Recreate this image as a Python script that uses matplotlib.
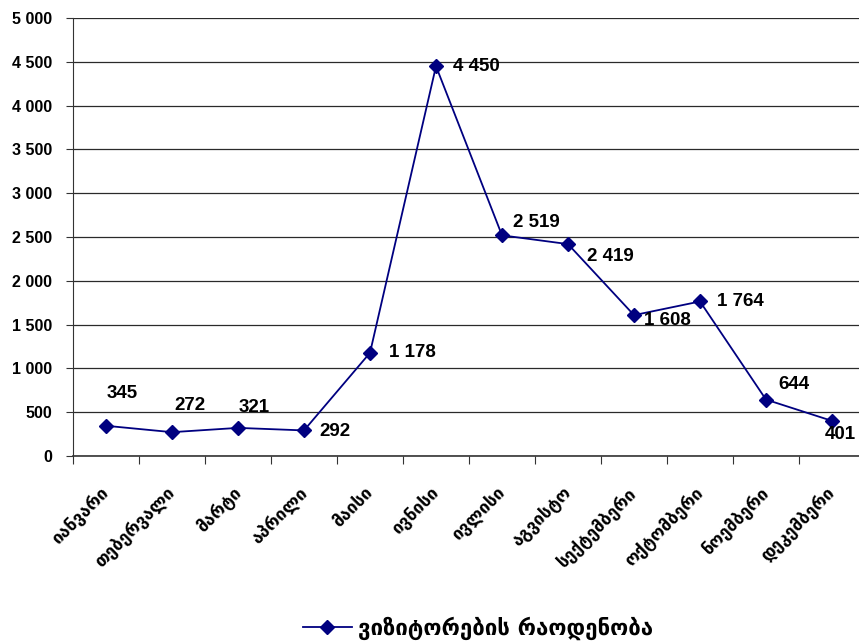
import matplotlib
matplotlib.use("Agg")
import matplotlib.pyplot as plt
import matplotlib.transforms as mtransforms
from matplotlib.ticker import FuncFormatter, MultipleLocator, FixedLocator

months = ["იანვარი", "თებერვალი", "მარტი", "აპრილი", "მაისი", "ივნისი",
          "ივლისი", "აგვისტო", "სექტემბერი", "ოქტომბერი", "ნოემბერი", "დეკემბერი"]
visitors = [345, 272, 321, 292, 1178, 4450, 2519, 2419, 1608, 1764, 644, 401]
series_name = "ვიზიტორების რაოდენობა"

# label offsets in points (dx, dy, ha, va) - style only
offsets = [(12, 23, "center", "center"), (13, 19, "center", "center"),
           (12, 15, "center", "center"), (11, -1, "left", "center"),
           (14, 0, "left", "center"), (12, 0, "left", "center"),
           (8, 9, "left", "center"), (14, -9, "left", "center"),
           (7, -4, "left", "center"), (12, 0, "left", "center"),
           (9, 11, "left", "center"), (-5, -10, "left", "center")]

def fmt(v, pos=None):
    return f"{int(v):,}".replace(",", " ")

fig = plt.figure(figsize=(8.59, 6.41), dpi=100)
ax = fig.add_axes([73/859, 1-456/641, 792/859, 438/641])

x = list(range(len(visitors)))
ax.plot(x, visitors, color="#000080", lw=1.3, marker="D", ms=7,
        mfc="#000080", mec="#000080", label=series_name, clip_on=False, zorder=3)

for i, v in enumerate(visitors):
    dx, dy, ha, va = offsets[i]
    ax.annotate(fmt(v), (i, v), xytext=(dx, dy), textcoords="offset points",
                ha=ha, va=va, fontsize=13.5, fontweight="bold",
                family="Liberation Sans", color="black", zorder=4,
                annotation_clip=False)

ax.set_xlim(-0.5, 11.5)
ax.set_ylim(0, 5000)
ax.yaxis.set_major_locator(MultipleLocator(500))
ax.yaxis.set_major_formatter(FuncFormatter(fmt))
ax.grid(axis="y", color="#2a2a2a", lw=0.9)
ax.set_axisbelow(True)

for lab in ax.get_yticklabels():
    lab.set_fontweight("bold")
    lab.set_family("Liberation Sans")
    lab.set_fontsize(11.5)
ax.tick_params(axis="y", length=5, width=0.8, color="#333333", pad=10)

ax.xaxis.set_major_locator(FixedLocator([i - 0.5 for i in range(13)]))
ax.xaxis.set_major_formatter(FuncFormatter(lambda v, p: ""))
ax.xaxis.set_minor_locator(FixedLocator(x))
ax.set_xticklabels(months, minor=True, rotation=45, ha="right",
                   rotation_mode="anchor", fontsize=12.5, fontweight="bold",
                   family="DejaVu Sans")
ax.tick_params(axis="x", which="major", length=6, width=0.8, color="#333333")
ax.tick_params(axis="x", which="minor", length=0, pad=20)
shift = mtransforms.ScaledTranslation(-6/100, 0, fig.dpi_scale_trans)
for lab in ax.get_xticklabels(minor=True):
    lab.set_transform(lab.get_transform() + shift)

ax.spines["top"].set_visible(False)
ax.spines["right"].set_visible(False)
ax.spines["left"].set_color("#333333")
ax.spines["bottom"].set_color("#333333")
ax.spines["bottom"].set_linewidth(1.2)

leg = fig.legend(loc="center", bbox_to_anchor=(478/859, 1-628/641), frameon=False,
                 prop={"family": "DejaVu Sans", "weight": "bold", "size": 16},
                 handlelength=2.2, handletextpad=0.3)

fig.savefig("out.png", dpi=100)
